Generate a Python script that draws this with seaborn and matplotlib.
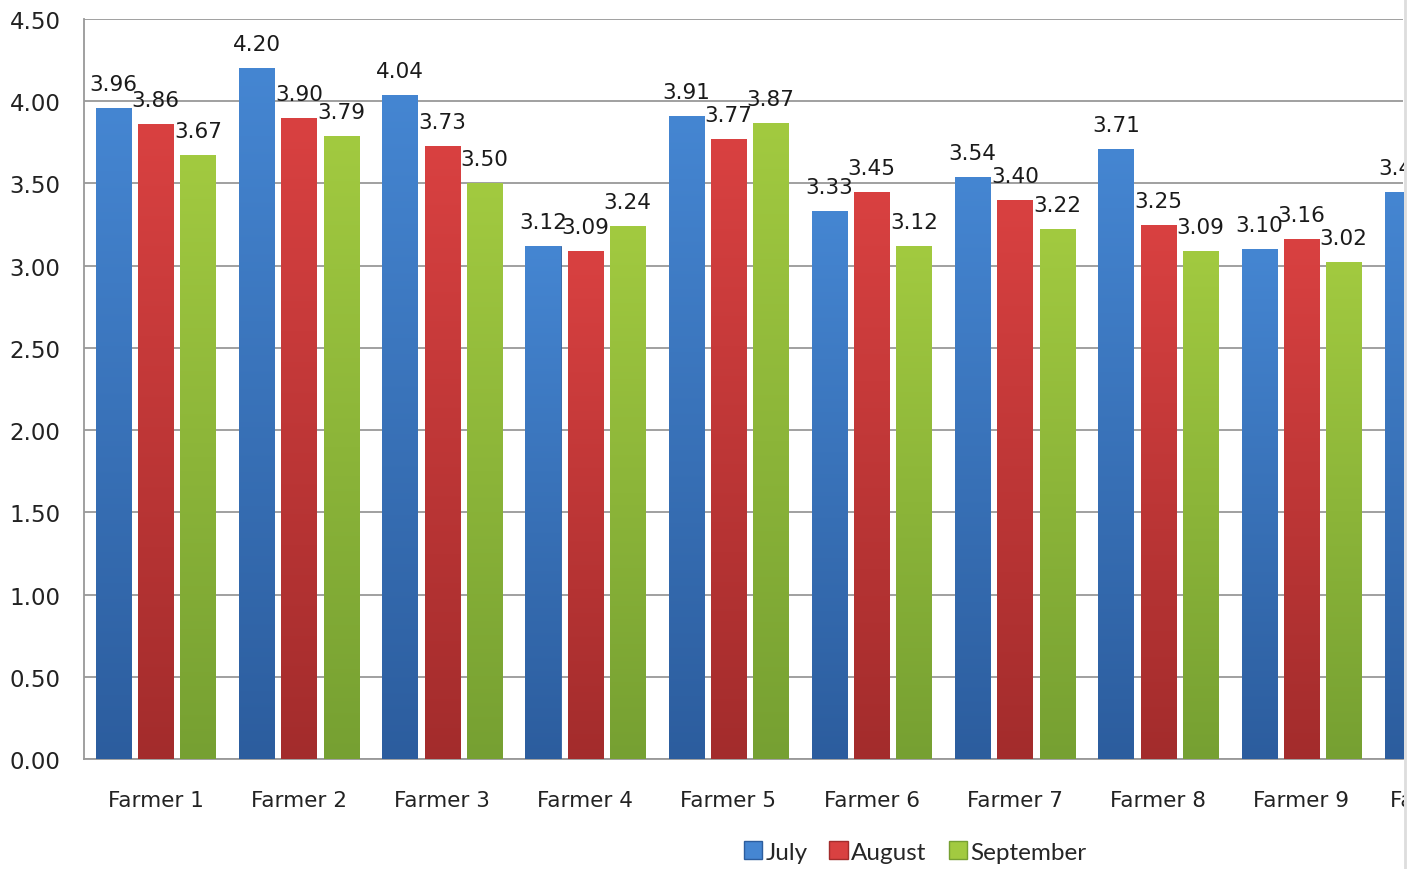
import numpy as np
import pandas as pd
import matplotlib
matplotlib.use("Agg")
import matplotlib.pyplot as plt
import seaborn as sns
from matplotlib.patches import Patch, Rectangle
from matplotlib.colors import LinearSegmentedColormap
from matplotlib.lines import Line2D

# --- Data ---
farmers = ["Farmer 1", "Farmer 2", "Farmer 3", "Farmer 4", "Farmer 5",
           "Farmer 6", "Farmer 7", "Farmer 8", "Farmer 9", "Farmer 10"]
months = ["July", "August", "September"]
july = [3.96, 4.20, 4.04, 3.12, 3.91, 3.33, 3.54, 3.71, 3.10, 3.45]
august = [3.86, 3.90, 3.73, 3.09, 3.77, 3.45, 3.40, 3.25, 3.16, np.nan]
september = [3.67, 3.79, 3.50, 3.24, 3.87, 3.12, 3.22, 3.09, 3.02, np.nan]
y_ticks = [0.0, 0.5, 1.0, 1.5, 2.0, 2.5, 3.0, 3.5, 4.0, 4.5]

top_colors = {"July": "#4586d2", "August": "#d94141", "September": "#a2ca40"}
bottom_colors = {"July": "#2c5d9e", "August": "#a32c2c", "September": "#76a032"}

df = pd.DataFrame({"Farmer": farmers * 3,
                   "Month": [m for m in months for _ in farmers],
                   "Score": july + august + september})

sns.set_style("white")
plt.rcParams["font.family"] = ["DejaVu Sans"]

fig = plt.figure(figsize=(14.19, 8.70), dpi=100)
ax = fig.add_axes([84 / 1419, 110 / 870, (1403 - 84) / 1419, 740 / 870])

sns.barplot(data=df, x="Farmer", y="Score", hue="Month", hue_order=months,
            order=farmers, palette=top_colors, width=0.885, gap=0.17,
            errorbar=None, legend=False, ax=ax, zorder=3)

# gradient fill + value labels
for cont, month in zip(ax.containers, months):
    cmap = LinearSegmentedColormap.from_list(month, [bottom_colors[month], top_colors[month]])
    for bar in cont:
        h = bar.get_height()
        if not np.isfinite(h) or h <= 0:
            continue
        x0, w = bar.get_x(), bar.get_width()
        bar.set_edgecolor(bottom_colors[month])
        bar.set_linewidth(0.6)
        grad = np.linspace(0, 1, 256).reshape(-1, 1)
        im = ax.imshow(grad, cmap=cmap, origin="lower", aspect="auto",
                       extent=[x0, x0 + w, 0, h], zorder=3.5)
        im.set_clip_path(bar)
        ax.annotate(f"{h:.2f}", (x0 + w / 2, h), xytext=(0, 13),
                    textcoords="offset points", ha="center", va="baseline",
                    fontsize=15.5, color="#1a1a1a", zorder=5, annotation_clip=False)

ax.set_xlim(-0.5, 8.71)
ax.set_ylim(0, 4.5)
ax.set_yticks(y_ticks)
ax.set_yticklabels([f"{v:.2f}" for v in y_ticks], fontsize=16.5, color="#222222")
ax.tick_params(axis="x", labelsize=15.5, colors="#222222", pad=22, length=0)
ax.tick_params(axis="y", pad=17, length=0)
ax.set_xlabel("")
ax.set_ylabel("")

# last category label sits past the cropped edge, draw it by hand
ax.annotate(farmers[-1], (9, 0), xycoords=ax.get_xaxis_transform(), xytext=(0, -22),
            textcoords="offset points", ha="center", va="top", fontsize=15.5,
            color="#222222", annotation_clip=False)

ax.yaxis.grid(True, color="#999999", linewidth=1.3, zorder=0)
ax.set_axisbelow(True)
for side in ["top", "right"]:
    ax.spines[side].set_visible(False)
for side in ["left", "bottom"]:
    ax.spines[side].set_color("#999999")
    ax.spines[side].set_linewidth(1.3)

# the reference is cropped on the right edge
fig.patches.append(Rectangle((1404 / 1419, 0), 1, 1, transform=fig.transFigure,
                             facecolor="white", edgecolor="none", zorder=10))
fig.lines.append(Line2D([1405 / 1419, 1405 / 1419], [0, 1], transform=fig.transFigure,
                        color="#dddddd", linewidth=2, zorder=11))

handles = [Patch(facecolor=top_colors[m], edgecolor=bottom_colors[m], label=m) for m in months]
fig.legend(handles=handles, loc="center", bbox_to_anchor=(915 / 1419, 17 / 870),
           ncol=3, frameon=False, handlelength=0.75, handleheight=0.75,
           handletextpad=0.15, columnspacing=0.9, prop={"family": "Lato", "size": 17.5})

fig.savefig("out.png", dpi=100)
